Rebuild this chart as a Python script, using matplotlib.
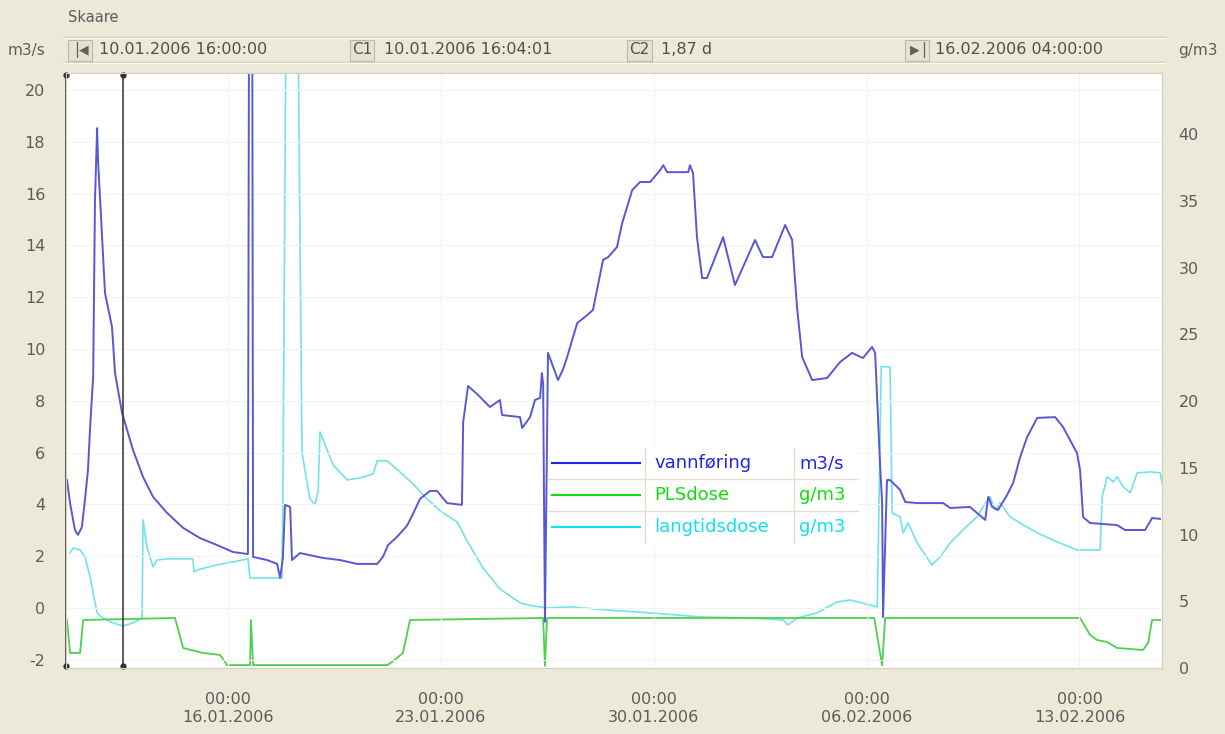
import matplotlib
matplotlib.use('Agg')
import matplotlib.pyplot as plt
from matplotlib.patches import Rectangle
from matplotlib.lines import Line2D
import pandas as pd

# days counted from 10.01.2006 00:00
flow_days = [0.70, 0.80, 0.96, 1.06, 1.19, 1.29, 1.39, 1.46, 1.56, 1.59, 1.62, 1.69, 1.72, 1.79,
             1.95, 2.18, 2.28, 2.51, 2.61, 2.87, 3.20, 3.53, 3.99, 4.52, 5.07, 5.63, 6.16, 6.65,
             6.69, 6.79, 6.82, 7.28, 7.61, 7.71, 7.80, 7.87, 8.04, 8.10, 8.36, 9.12, 9.68, 10.24,
             10.90, 11.09, 11.26, 11.55, 11.88, 12.08, 12.31, 12.64, 12.87, 13.20, 13.69, 13.73,
             13.89, 14.19, 14.61, 14.94, 15.01, 15.60, 15.67, 15.93, 16.09, 16.26, 16.32, 16.36,
             16.42, 16.52, 16.85, 17.02, 17.15, 17.48, 17.81, 18.00, 18.33, 18.50, 18.79, 18.96,
             19.29, 19.55, 19.88, 20.21, 20.31, 20.44, 21.13, 21.19, 21.29, 21.42, 21.59, 21.75,
             22.28, 22.67, 23.33, 23.59, 23.89, 24.32, 24.55, 24.71, 24.88, 25.21, 25.70, 26.13,
             26.52, 26.88, 27.18, 27.28, 27.44, 27.51, 27.54, 27.67, 27.77, 28.10, 28.27, 28.66,
             29.52, 29.75, 30.40, 30.63, 30.90, 31.00, 31.13, 31.32, 31.62, 31.82, 32.05, 32.28,
             32.61, 33.20, 33.46, 33.92, 34.02, 34.12, 34.35, 35.24, 35.50, 36.16, 36.39, 36.65]
flow_vals = [4.94, 4.05, 3.01, 2.82, 3.13, 4.17, 5.33, 6.99, 8.92, 12.39, 15.75, 18.53, 17.30, 15.75,
             12.16, 10.85, 9.07, 7.53, 7.14, 6.10, 5.06, 4.29, 3.67, 3.09, 2.70, 2.43, 2.16, 2.08,
             25.0, 25.0, 1.97, 1.85, 1.70, 1.16, 1.93, 3.98, 3.90, 1.85, 2.12, 1.93, 1.85, 1.70,
             1.70, 1.97, 2.43, 2.74, 3.17, 3.63, 4.21, 4.52, 4.52, 4.05, 3.98, 7.18,
             8.57, 8.26, 7.76, 8.03, 7.45, 7.37, 6.95, 7.37, 8.03, 8.11, 9.07, 8.65,
             -0.54, 9.85, 8.80, 9.23, 9.69, 11.00, 11.31, 11.51, 13.44, 13.55, 13.94, 14.86,
             16.14, 16.45, 16.45, 16.91, 17.10, 16.83, 16.83, 17.10, 16.80, 14.32, 12.74, 12.74,
             14.32, 12.47, 14.21, 13.55, 13.55, 14.79, 14.21, 11.62, 9.69, 8.80, 8.88, 9.50,
             9.85, 9.65, 10.08, 9.85, 5.60, 4.05, -0.35, 4.94, 4.94, 4.56, 4.09, 4.05,
             4.05, 3.86, 3.90, 3.67, 3.40, 4.29, 3.90, 3.78, 4.36, 4.83, 5.83, 6.60,
             7.34, 7.37, 6.99, 5.98, 5.33, 3.51, 3.28, 3.20, 3.01, 3.01, 3.47, 3.44]

pls_days = [0.70, 0.80, 1.13, 1.23, 4.25, 4.52, 5.17, 5.73, 5.90, 5.96, 6.72, 6.75, 6.82, 11.23,
            11.42, 11.75, 11.98, 16.36, 16.42, 16.49, 27.25, 27.51, 27.61, 34.02, 34.35, 34.58,
            34.91, 35.24, 36.09, 36.26, 36.39, 36.65]
pls_vals = [3.60, 1.13, 1.13, 3.60, 3.75, 1.50, 1.13, 0.98, 0.45, 0.22, 0.22, 3.60, 0.22, 0.22,
            0.50, 1.13, 3.60, 3.75, 0.15, 3.75, 3.75, 0.20, 3.75, 3.75, 2.48, 2.10,
            1.95, 1.50, 1.35, 1.88, 3.60, 3.60]

long_days = [0.80, 0.90, 1.13, 1.29, 1.46, 1.69, 1.88, 2.21, 2.54, 2.87, 3.17, 3.20, 3.33, 3.53,
             3.66, 3.99, 4.84, 4.88, 4.98, 5.63, 6.16, 6.65, 6.72, 7.77, 7.80, 7.90, 8.30, 8.43,
             8.69, 8.86, 8.96, 9.02, 9.45, 9.91, 10.34, 10.77, 10.90, 11.23, 11.65, 12.08, 12.41,
             12.97, 13.53, 13.86, 14.38, 14.94, 15.60, 16.03, 16.49, 17.25, 18.46, 19.88, 21.52,
             23.17, 24.25, 24.42, 24.71, 25.37, 26.03, 26.46, 27.35, 27.48, 27.77, 27.84, 28.10,
             28.20, 28.36, 28.66, 29.15, 29.42, 29.75, 30.17, 30.63, 30.83, 31.06, 31.23, 31.39,
             31.72, 32.15, 32.61, 33.27, 33.92, 34.68, 34.75, 34.91, 35.11, 35.24, 35.44, 35.67,
             35.90, 36.33, 36.65, 36.72]
long_vals = [8.63, 9.00, 8.85, 8.33, 6.83, 4.13, 3.75, 3.38, 3.15, 3.38, 3.75, 11.10, 9.08, 7.58,
             8.10, 8.18, 8.18, 7.20, 7.35, 7.73, 7.95, 8.18, 6.75, 6.75, 12.38, 48.0, 48.0, 16.13,
             12.68, 12.23, 13.28, 17.70, 15.23, 14.10, 14.25, 14.55, 15.53, 15.53, 14.70, 13.80, 12.98,
             11.78, 10.95, 9.53, 7.50, 5.93, 4.88, 4.65, 4.50, 4.58, 4.35, 4.13, 3.83,
             3.75, 3.60, 3.23, 3.75, 4.13, 4.95, 5.10, 4.58, 22.58, 22.58, 11.63, 11.33,
             10.13, 10.88, 9.38, 7.73, 8.33, 9.38, 10.35, 11.33, 12.08, 12.83, 11.85, 12.38,
             11.33, 10.73, 10.13, 9.45, 8.85, 8.85, 12.83, 14.33, 13.95, 14.33, 13.58, 13.13,
             14.63, 14.70, 14.63, 13.88]

tick_dates = ['2006-01-16', '2006-01-23', '2006-01-30', '2006-02-06', '2006-02-13']
tick_labels = ['00:00\n16.01.2006', '00:00\n23.01.2006', '00:00\n30.01.2006',
               '00:00\n06.02.2006', '00:00\n13.02.2006']
left_ticks = list(range(-2, 21, 2))
right_ticks = list(range(0, 41, 5))

series_names = ['vannføring', 'PLSdose', 'langtidsdose']
series_units = ['m3/s', 'g/m3', 'g/m3']

t0 = pd.Timestamp('2006-01-10 00:00')
view_start = pd.Timestamp('2006-01-10 16:00')
view_end = pd.Timestamp('2006-02-15 17:10')
cursor1 = pd.Timestamp('2006-01-10 16:04:01')
cursor2 = cursor1 + pd.Timedelta(days=1.87)

W, H = 1225, 734
BG = '#ece9d8'
TXT = '#5c5c5c'
C_FLOW, C_PLS, C_LONG = '#5858d4', '#4cd24c', '#72e2ea'
L_FLOW, L_PLS, L_LONG = '#2424ee', '#10dd10', '#10def2'


def fx(x):
    return x / W


def fy(y):
    return 1 - y / H


def to_time(days):
    return t0 + pd.to_timedelta(days, unit='D')


plt.rcParams['font.family'] = ['DejaVu Sans']
plt.rcParams['axes.unicode_minus'] = False
fig = plt.figure(figsize=(W / 100, H / 100), dpi=100, facecolor=BG)

ax = fig.add_axes([fx(66), fy(668), (1162 - 66) / W, (668 - 73) / H])
ax2 = ax.twinx()
ax2.set_zorder(1)
ax.set_zorder(2)
ax.patch.set_visible(False)
ax2.patch.set_visible(True)
ax2.patch.set_facecolor('white')

ax2.plot(to_time(long_days), long_vals, color=C_LONG, lw=1.2)
ax2.plot(to_time(pls_days), pls_vals, color=C_PLS, lw=1.3)
ax.plot(to_time(flow_days), flow_vals, color=C_FLOW, lw=1.4)

# cursors
for c in (cursor1, cursor2):
    ax.plot([c, c], [0.004, 0.996], transform=ax.get_xaxis_transform(), color='#303030',
            lw=1.1, marker='o', ms=3.5, clip_on=False)

ax.set_xlim(view_start, view_end)
ax.set_ylim(-2.32, 20.66)
ax2.set_ylim(0, 44.6)

ax.set_xticks(pd.to_datetime(tick_dates), labels=tick_labels, linespacing=1.3)
ax.set_yticks(left_ticks)
ax2.set_yticks(right_ticks)
ax.tick_params(axis='x', length=0, pad=17, labelsize=11.5, labelcolor=TXT)
ax.tick_params(axis='y', length=0, pad=15, labelsize=11.5, labelcolor=TXT)
ax2.tick_params(axis='y', length=0, pad=12, labelsize=11.5, labelcolor=TXT)
ax.grid(True, color='#f3f3f3', lw=0.8)
for a in (ax, ax2):
    for s in a.spines.values():
        s.set_color('#d4d0c0')

# header
fig.text(fx(68), fy(18), 'Skaare', fontsize=10.5, color=TXT, va='center')
fig.text(fx(8), fy(50), 'm3/s', fontsize=11, color=TXT, va='center')
fig.text(fx(1178), fy(50), 'g/m3', fontsize=11, color=TXT, va='center')
for y, col in ((37, '#cdc9b6'), (38, '#fbfaf4'), (62, '#cdc9b6'), (63, '#fbfaf4')):
    fig.add_artist(Line2D([fx(63), fx(1165)], [fy(y), fy(y)], color=col, lw=1))
for x0, x1 in ((68, 92), (350, 374), (627, 652), (905, 929)):
    fig.add_artist(Rectangle((fx(x0), fy(61)), (x1 - x0) / W, 21 / H, facecolor='#e6e2d0',
                             edgecolor='#bdb9a6', lw=0.8))
fig.text(fx(74), fy(50), '|', fontsize=11, color='#606060', va='center')
fig.text(fx(79), fy(50), '◀', fontsize=9, color='#606060', va='center')
fig.text(fx(910), fy(50), '▶', fontsize=9, color='#606060', va='center')
fig.text(fx(921), fy(50), '|', fontsize=11, color='#606060', va='center')
fig.text(fx(362), fy(50), 'C1', fontsize=11, color='#505050', va='center', ha='center')
fig.text(fx(639), fy(50), 'C2', fontsize=11, color='#505050', va='center', ha='center')
fig.text(fx(99), fy(50), '10.01.2006 16:00:00', fontsize=11.5, color='#505050', va='center')
fig.text(fx(384), fy(50), '10.01.2006 16:04:01', fontsize=11.5, color='#505050', va='center')
fig.text(fx(661), fy(50), '1,87 d', fontsize=11.5, color='#505050', va='center')
fig.text(fx(935), fy(50), '16.02.2006 04:00:00', fontsize=11.5, color='#505050', va='center')

# legend table
lx0, lx1, ly0, ly1 = 548, 858, 448, 543
fig.add_artist(Rectangle((fx(lx0), fy(ly1)), (lx1 - lx0) / W, (ly1 - ly0) / H,
                         facecolor='white', edgecolor='none', zorder=5))
for y in (479, 511):
    fig.add_artist(Line2D([fx(lx0), fx(lx1)], [fy(y), fy(y)], color='#e2decf', lw=1, zorder=6))
for x in (645, 794):
    fig.add_artist(Line2D([fx(x), fx(x)], [fy(ly0), fy(ly1)], color='#e2decf', lw=1, zorder=6))
for i, (name, unit, col) in enumerate(zip(series_names, series_units, (L_FLOW, L_PLS, L_LONG))):
    yc = 463 + i * 32
    fig.add_artist(Line2D([fx(552), fx(640)], [fy(yc), fy(yc)], color=col, lw=1.5, zorder=7))
    fig.text(fx(654), fy(yc), name, fontsize=13, color=col, va='center', zorder=7)
    fig.text(fx(799), fy(yc), unit, fontsize=13, color=col, va='center', zorder=7)

fig.savefig('out.png', dpi=100, facecolor=BG)
